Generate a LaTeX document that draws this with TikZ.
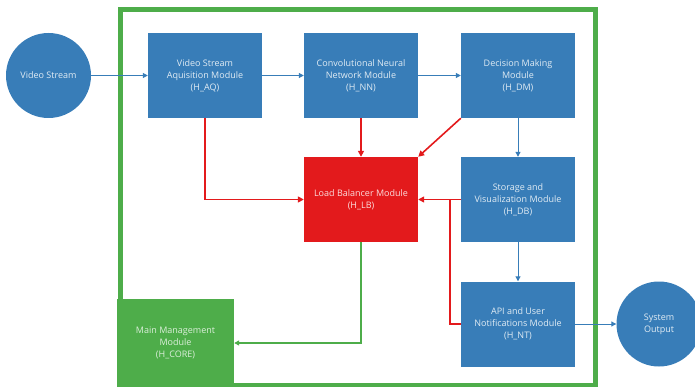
\documentclass[tikz,border=0pt]{standalone}
\usepackage{fontspec}
\setmainfont{Open Sans}
\usetikzlibrary{arrows.meta}
\definecolor{modblue}{RGB}{56,125,184}
\definecolor{modred}{RGB}{227,26,28}
\definecolor{modgreen}{RGB}{78,173,74}
\begin{document}
\begin{tikzpicture}[x=1pt,y=-1pt]
	\tikzset{every node/.style=
        {align=center, inner sep=0pt, font=\fontsize{9}{12}\selectfont, text=white!85!modblue},
        module/.style={fill=modblue, minimum width=114pt, minimum height=85pt},
        source/.style={circle, fill=modblue, minimum size=85pt},
        bluearrow/.style={modblue, line width=1pt, -{Triangle[width=5pt,length=5pt]}},
        redarrow/.style={modred, line width=1.6pt, -{Triangle[width=6pt,length=6pt]}},
        greenarrow/.style={modgreen, line width=1.2pt, -{Triangle[width=5pt,length=5pt]}}
     }
	\useasboundingbox (0,0) rectangle (695,387);
	% outer frame
	\draw[modgreen, line width=5pt] (120,9.5) rectangle (595.5,385);

	\node (vin) at (48.5,75.5) [source] {Video Stream};
	\node (haq) at (205,75.5) [module] {Video Stream\\Aquisition Module\\(H\_AQ)};
	\node (hnn) at (361,75.5) [module] {Convolutional Neural\\Network Module\\(H\_NN)};
	\node (hdm) at (518,75.5) [module] {Decision Making\\Module\\(H\_DM)};
	\node[module, fill=modred, text=white!85!modred] (hlb) at (361,199.5) {Load Balancer Module\\(H\_LB)};
	\node (hdb) at (518,199.5) [module] {Storage and\\Visualization Module\\(H\_DB)};
	\node (hnt) at (518,324) [module] {API and User\\Notifications Module\\(H\_NT)};
	\node[module, fill=modgreen, text=white!80!modgreen, minimum width=117pt, minimum height=88pt] (hcore) at (175.5,343) {Main Management\\Module\\(H\_CORE)};
	\node (vout) at (659,324) [source] {System\\Output};
	\coordinate (join) at (450,199.5);

	\draw[bluearrow] (vin) -- (haq);
	\draw[bluearrow] (haq) -- (hnn);
	\draw[bluearrow] (hnn) -- (hdm);
	\draw[bluearrow] (hdm) -- (hdb);
	\draw[bluearrow] (hdb) -- (hnt);
	\draw[bluearrow] (hnt) -- (vout);
	\draw[redarrow] (haq.south) |- (hlb.west);
	\draw[redarrow] (hnn) -- (hlb);
	\draw[redarrow] (hdm.south west) -- (hlb.north east);
	\draw[redarrow] (hdb) -- (hlb);
	\draw[modred, line width=1.6pt] (hnt.west) -| (join);
	\draw[greenarrow] (hlb.south) |- (hcore.east);
\end{tikzpicture}
\end{document}
